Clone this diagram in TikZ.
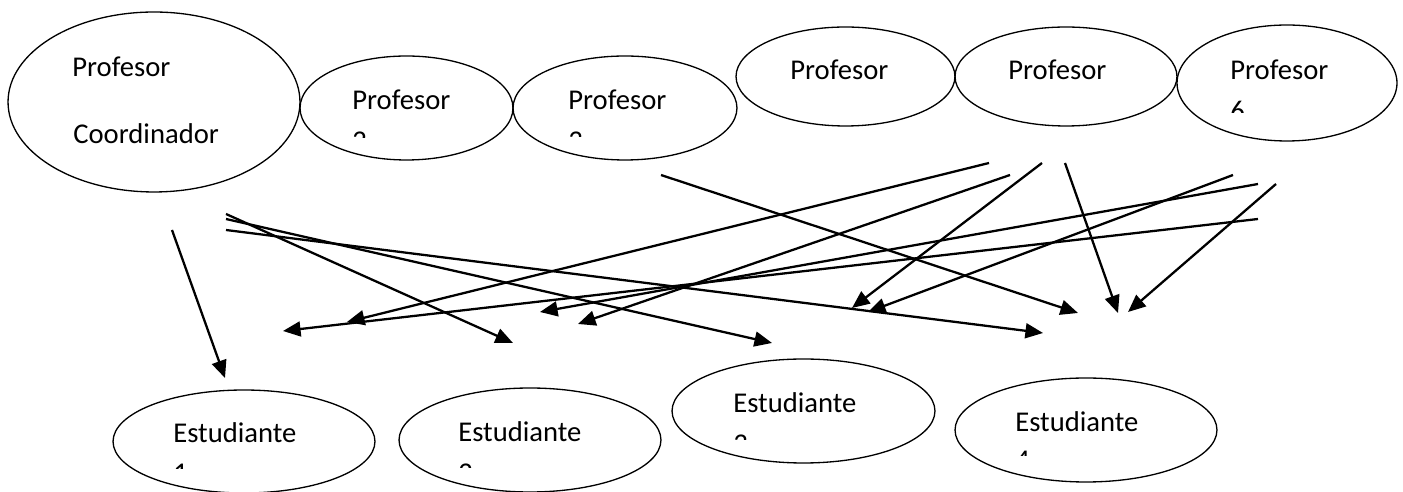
\documentclass[tikz,border=0pt]{standalone}
\usepackage{fontspec}
\setmainfont{Carlito}
\usetikzlibrary{shapes.geometric,arrows.meta}

% number under a label, cut off by the text box
\newcommand{\cutdigit}[5]{%
  \begin{scope}
    \clip (#2-6,#4-30) rectangle (#2+30,#4);
    \node[txt] (#1) at (#2,#3) {#5};
  \end{scope}}

\begin{document}
\begin{tikzpicture}[x=0.02cm, y=-0.02cm,
    oval/.style={draw, ellipse, line width=0.75pt, inner sep=0pt},
    txt/.style={anchor=base west, inner sep=0pt, font=\fontsize{16.3}{19.6}\selectfont},
    arr/.style={-{Triangle[length=10pt,width=8.5pt]}, line width=1.3pt}]
  \useasboundingbox (0,0) rectangle (1403,492);

  % profesores
  \node[oval, minimum width=5.84cm, minimum height=3.6cm] (p1) at (154,102) {};
  \node[oval, minimum width=4.26cm, minimum height=2.08cm] (p2) at (406.5,108) {};
  \node[oval, minimum width=4.48cm, minimum height=2.08cm] (p3) at (625,108) {};
  \node[oval, minimum width=4.38cm, minimum height=1.98cm] (p4) at (845.5,76.5) {};
  \node[oval, minimum width=4.44cm, minimum height=1.98cm] (p5) at (1066,76.5) {};
  \node[oval, minimum width=4.40cm, minimum height=2.32cm] (p6) at (1287,83) {};

  \node[txt] (p1a) at (72,77) {Profesor};
  \node[txt] (p1b) at (73,144) {Coordinador};
  \node[txt] (p2a) at (352,110) {Profesor};
  \cutdigit{p2b}{352}{151}{138}{2}
  \node[txt] (p3a) at (568,110) {Profesor};
  \cutdigit{p3b}{568}{151}{137}{3}
  \node[txt] (p4a) at (790,80) {Profesor};
  \node[txt] (p5a) at (1008,80) {Profesor};
  \node[txt] (p6a) at (1230,80) {Profesor};
  \cutdigit{p6b}{1230}{121}{113}{6}

  % estudiantes
  \node[oval, minimum width=5.24cm, minimum height=2.06cm] (e1) at (244,441.5) {};
  \node[oval, minimum width=5.24cm, minimum height=2.08cm] (e2) at (530,440) {};
  \node[oval, minimum width=5.26cm, minimum height=2.08cm] (e3) at (803.5,411) {};
  \node[oval, minimum width=5.24cm, minimum height=2.08cm] (e4) at (1086,430) {};

  \node[txt] (e1a) at (173,443) {Estudiante};
  \cutdigit{e1b}{173}{483}{469}{1}
  \node[txt] (e2a) at (458,442) {Estudiante};
  \cutdigit{e2b}{458}{483}{468}{2}
  \node[txt] (e3a) at (733,413) {Estudiante};
  \cutdigit{e3b}{733}{454}{440}{3}
  \node[txt] (e4a) at (1015,432) {Estudiante};
  \cutdigit{e4b}{1015}{470}{456}{4}

  % arrow ends
  \coordinate (s1) at (172,230);  \coordinate (t1) at (225,378);
  \coordinate (s2) at (226,214);  \coordinate (t2) at (513,343);
  \coordinate (s3) at (226,219);  \coordinate (t3) at (772,343);
  \coordinate (s4) at (226,230);  \coordinate (t4) at (1043,333);
  \coordinate (s5) at (661,175);  \coordinate (t5) at (1078,313);
  \coordinate (s6) at (989,163);  \coordinate (t6) at (347,322);
  \coordinate (s7) at (1010,175); \coordinate (t7) at (578,324);
  \coordinate (s8) at (1042,163); \coordinate (t8) at (852,308);
  \coordinate (s9) at (1065,163); \coordinate (t9) at (1118,313);
  \coordinate (s10) at (1233,175); \coordinate (t10) at (868,312);
  \coordinate (s11) at (1258,184); \coordinate (t11) at (540,312);
  \coordinate (s12) at (1258,219); \coordinate (t12) at (283,331);
  \coordinate (s13) at (1276,184); \coordinate (t13) at (1128,312);

  \draw[arr] (s1) -- (t1);
  \draw[arr] (s2) -- (t2);
  \draw[arr] (s3) -- (t3);
  \draw[arr] (s4) -- (t4);
  \draw[arr] (s5) -- (t5);
  \draw[arr] (s6) -- (t6);
  \draw[arr] (s7) -- (t7);
  \draw[arr] (s8) -- (t8);
  \draw[arr] (s9) -- (t9);
  \draw[arr] (s10) -- (t10);
  \draw[arr] (s11) -- (t11);
  \draw[arr] (s12) -- (t12);
  \draw[arr] (s13) -- (t13);
\end{tikzpicture}
\end{document}
